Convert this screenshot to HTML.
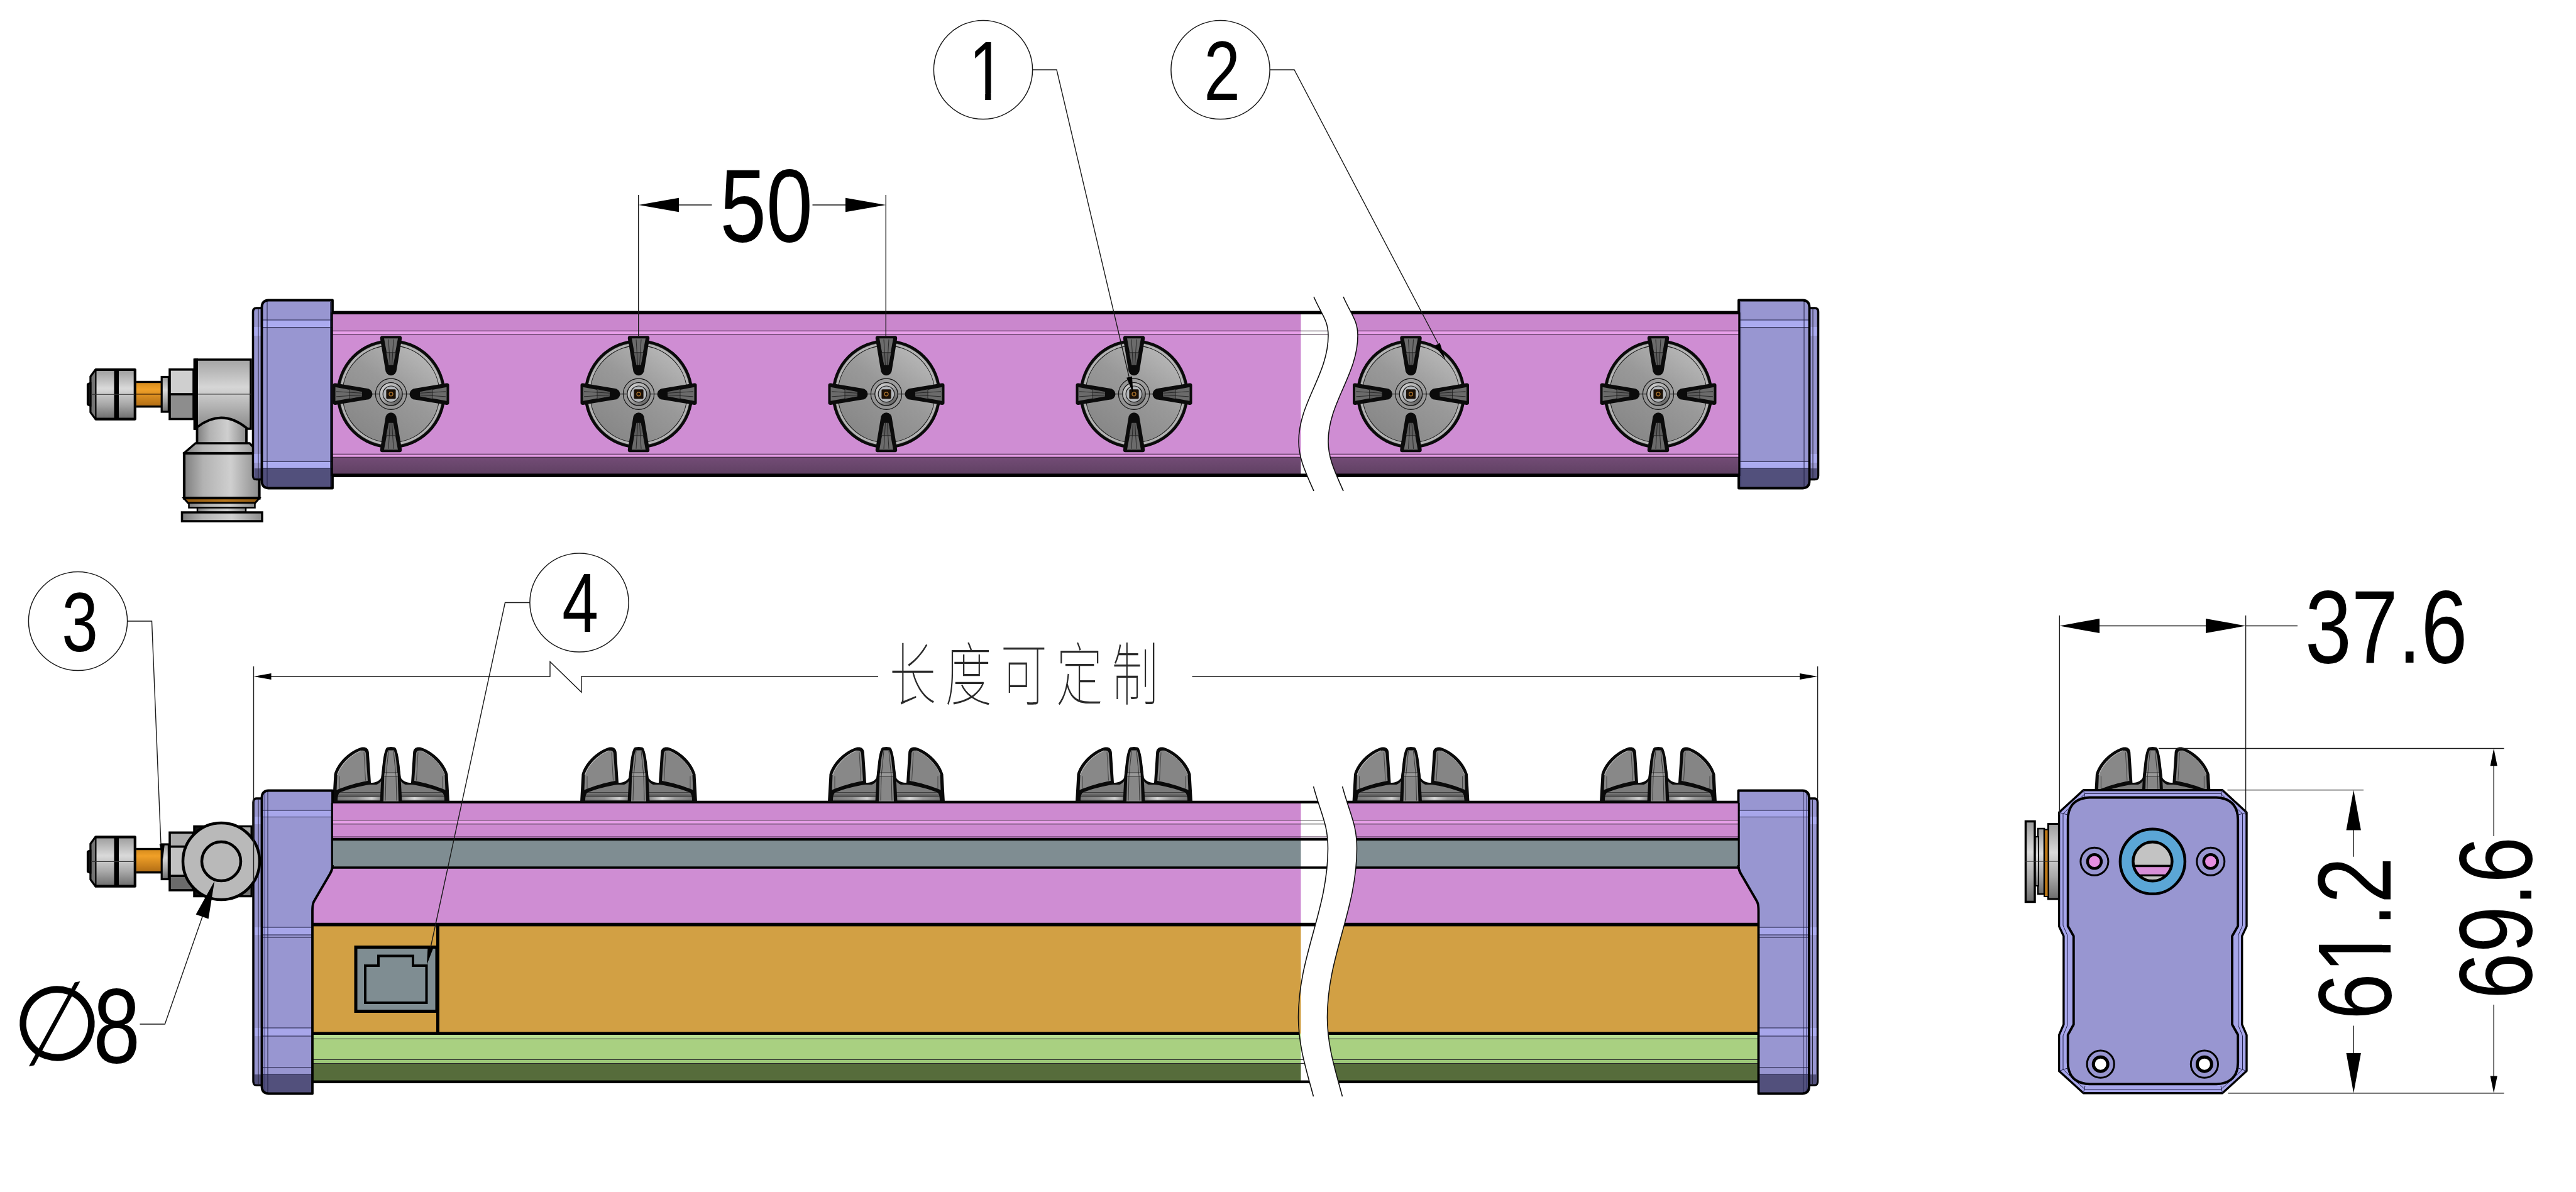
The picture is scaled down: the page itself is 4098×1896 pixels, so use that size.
<!DOCTYPE html>
<html lang="zh"><head><meta charset="utf-8"><title>drawing</title>
<style>html,body{margin:0;padding:0;background:#fff;overflow:hidden}svg{display:block}</style></head>
<body><svg width="4098" height="1896" viewBox="0 0 4098 1896">
<rect width="4098" height="1896" fill="#fff"/>
<defs>
<linearGradient id="gv" x1="0" y1="0" x2="0" y2="1">
 <stop offset="0" stop-color="#9c9c9c"/><stop offset=".38" stop-color="#dadada"/><stop offset=".7" stop-color="#a8a8a8"/><stop offset="1" stop-color="#6c6c6c"/>
</linearGradient>
<linearGradient id="gv2" x1="0" y1="0" x2="0" y2="1">
 <stop offset="0" stop-color="#a4a4a4"/><stop offset=".4" stop-color="#d6d6d6"/><stop offset="1" stop-color="#8a8a8a"/>
</linearGradient>
<linearGradient id="gh" x1="0" y1="0" x2="1" y2="0">
 <stop offset="0" stop-color="#7e7e7e"/><stop offset=".25" stop-color="#b2b2b2"/><stop offset=".62" stop-color="#cfcfcf"/><stop offset="1" stop-color="#8c8c8c"/>
</linearGradient>
<linearGradient id="go" x1="0" y1="0" x2="0" y2="1">
 <stop offset="0" stop-color="#d48a1c"/><stop offset=".3" stop-color="#f0a028"/><stop offset="1" stop-color="#b06c14"/>
</linearGradient>
<linearGradient id="goh" x1="0" y1="0" x2="1" y2="0">
 <stop offset="0" stop-color="#8e5810"/><stop offset=".55" stop-color="#b5761f"/><stop offset="1" stop-color="#8e5810"/>
</linearGradient>
<linearGradient id="nface" x1="0.85" y1="0.1" x2="0.25" y2="0.95">
 <stop offset="0" stop-color="#b9b9b9"/><stop offset=".45" stop-color="#999"/><stop offset="1" stop-color="#868686"/>
</linearGradient>
<linearGradient id="nhub" x1=".15" y1=".1" x2=".85" y2=".9">
 <stop offset="0" stop-color="#cfcfcf"/><stop offset=".5" stop-color="#a6a6a6"/><stop offset="1" stop-color="#5e5e5e"/>
</linearGradient>
<linearGradient id="ndisk" x1="0" y1="0" x2="0" y2="1">
 <stop offset="0" stop-color="#6e6e6e"/><stop offset=".35" stop-color="#8c8c8c"/><stop offset=".5" stop-color="#5c5c5c"/><stop offset=".75" stop-color="#b4b4b4"/><stop offset="1" stop-color="#6a6a6a"/>
</linearGradient>
<linearGradient id="gpd" x1="0" y1="0" x2="0" y2="1"><stop offset="0" stop-color="#734c76"/><stop offset="1" stop-color="#5f4062"/></linearGradient>
<linearGradient id="ndl" x1="0" y1="0" x2="1" y2="0"><stop offset="0" stop-color="#7a7a7a"/><stop offset=".45" stop-color="#8f8f8f"/><stop offset=".8" stop-color="#d2d2d2"/><stop offset="1" stop-color="#8a8a8a"/></linearGradient>
<linearGradient id="ndr" x1="0" y1="0" x2="1" y2="0"><stop offset="0" stop-color="#8a8a8a"/><stop offset=".3" stop-color="#dadada"/><stop offset=".6" stop-color="#9a9a9a"/><stop offset="1" stop-color="#7a7a7a"/></linearGradient>
<g id="fin">
 <path d="M-14.5,-92.5 L14.5,-92.5 Q18,-92 17,-87 L9,-39 A9,9.5 0 0 1 -9,-39 L-17,-87 Q-18,-92 -14.5,-92.5Z" fill="#0b0b0b"/>
 <path d="M-11,-88.5 L11,-88.5 L3.4,-47 L-3.4,-47Z" fill="#6b6b6b"/>
 <path d="M-7.5,-66 L7.5,-66 L3.6,-46 L-3.6,-46Z" fill="#5c5c5c"/>
 <path d="M-7.5,-66 L7.5,-66 M-4,-87 L-1.5,-46 M4,-87 L1.5,-46" stroke="#1a1a1a" stroke-width=".8" fill="none"/>
</g>
<g id="nozT">
 <circle r="84.3" fill="url(#nface)" stroke="#0a0a0a" stroke-width="4.6"/>
 <circle r="79.8" fill="none" stroke="#b4b4b4" stroke-width="3.6"/>
 <circle r="82" fill="none" stroke="#222" stroke-width=".8"/>
 <circle r="77.2" fill="none" stroke="#1a1a1a" stroke-width="1.1"/>
 <path d="M-34,0H34" stroke="#222" stroke-width="1"/>
 <circle r="24.6" fill="none" stroke="#141414" stroke-width="1.2"/>
 <circle r="18.2" fill="url(#nhub)" stroke="#141414" stroke-width="1.3"/>
 <circle r="12.8" fill="#b3b6ba" stroke="#1a1a1a" stroke-width="1.2"/>
 <rect x="-7.6" y="-7.6" width="15.2" height="15.2" rx="1.6" fill="#1b1108"/>
 <circle r="3" fill="none" stroke="#b0762c" stroke-width="1.3"/>
 <use href="#fin"/><use href="#fin" transform="rotate(90)"/><use href="#fin" transform="rotate(180)"/><use href="#fin" transform="rotate(270)"/>
</g>
<g id="nozS">
 <path d="M-93,1 L-90.5,-43 C-86,-59 -70,-78 -48,-85.5 C-41,-87 -36,-84.5 -35.2,-78 L-32,-29.5 C-26,-29.5 -20,-31 -15.8,-37 L-13,-62 C-11.5,-74 -9.5,-82 -7,-85 Q-5,-86.5 0,-86.5 Q5,-86.5 7,-85 C9.5,-82 11.5,-74 13,-62 L15.8,-37 C20,-31 26,-29.5 32,-29.5 L35.2,-78 C36,-84.5 41,-87 48,-85.5 C70,-78 86,-59 90.5,-43 L93,1Z" fill="#0a0a0a"/>
 <path d="M-85,-1 L-83,-14 L83,-14 L85,-1Z" fill="#747474"/>
 <path d="M-84,-10 H84 L84.5,-7 H-84.5Z" fill="#636363"/>
 <path d="M-84.5,-7 H-17 V-1.5 H-85Z" fill="url(#ndl)"/>
 <path d="M84.5,-7 H17 V-1.5 H85Z" fill="url(#ndr)"/>
 <path d="M-83.5,-10H83.5 M-84,-7H84 M-85,-1.6H85" stroke="#222" stroke-width=".8"/>
 <path d="M-80,-14.5 C-66,-20 -48,-24.5 -33,-26.5 L-23,-26.5 C-20,-27.5 -17,-30 -15,-33 L15,-33 C17,-30 20,-27.5 23,-26.5 L33,-26.5 C48,-24.5 66,-20 80,-14.5Z" fill="#7b7b7b"/>
 <path d="M-86.5,-18 L-85.5,-42 C-81,-56 -67,-73 -47.5,-80.5 C-43,-81.5 -40.3,-80 -40,-76 L-37,-32.5 C-54,-29.5 -72,-24 -86.5,-18Z" fill="#888"/>
 <path d="M86.5,-18 L85.5,-42 C81,-56 67,-73 47.5,-80.5 C43,-81.5 40.3,-80 40,-76 L37,-32.5 C54,-29.5 72,-24 86.5,-18Z" fill="#858585"/>
 <path d="M-85.5,-42 C-81,-56 -67,-73 -47.5,-80.5" stroke="#bdbdbd" stroke-width="1.2" fill="none"/>
 <path d="M85.5,-42 C81,-56 67,-73 47.5,-80.5" stroke="#aaa" stroke-width="1" fill="none"/>
 <path d="M-82,-19 V-40 M82,-19 V-40 M-43,-78 L-40.5,-33 M43,-78 L40.5,-33" stroke="#333" stroke-width=".8" fill="none"/>
 <path d="M-88,-8 C-86,-14 -82,-17 -76,-19 C-62,-24 -48,-28 -33,-30.5 M88,-8 C86,-14 82,-17 76,-19 C62,-24 48,-28 33,-30.5" stroke="#0a0a0a" stroke-width="4" fill="none"/>
 <path d="M-17.5,1 L-15.5,-37 L-12.5,-62 C-11,-74 -9,-81 -7,-84.5 Q0,-86.5 7,-84.5 C9,-81 11,-74 12.5,-62 L15.5,-37 L17.5,1Z" fill="#0a0a0a"/>
 <path d="M-12,0 L-10.8,-38 L-8.5,-62 C-7.5,-72 -6,-78 -4.5,-81 L4.5,-81 C6,-78 7.5,-72 8.5,-62 L10.8,-38 L12,0Z" fill="#878787"/>
 <path d="M-10.5,-40 H10.5 V-45.5 H-10.2Z" fill="#999"/>
 <path d="M-10.6,-39.5H10.6 M-10.2,-45.5H10.2 M-9,-1 L-8,-40 L-4,-80 M9,-1 L8,-40 L4,-80" stroke="#222" stroke-width=".8" fill="none"/>
</g>
</defs>
<g id="topview">
<path d="M152.4,588.0 H214.8 V666.5999999999999 H152.4 L144.4,655.5999999999999 V645.0999999999999 L140,643.0999999999999 V611.5 L144.4,609.5 V599.0Z" fill="url(#gv)" stroke="#000" stroke-width="4.2" stroke-linejoin="round"/>
<path d="M152.4,588.0 L144.4,599.0 V655.5999999999999 L152.4,666.5999999999999Z" fill="#737373" stroke="#000" stroke-width="2.2" stroke-linejoin="round"/>
<path d="M144.4,609.5 L140,611.5 V643.0999999999999 L144.4,645.0999999999999Z" fill="#111" stroke="#000" stroke-width="2" />
<rect x="181.5" y="588.0" width="7.5" height="78.6" fill="#000" />
<path d="M145,627.3L214,627.3" stroke="#333" stroke-width="1" fill="none"/>
<rect x="216.9" y="607.5" width="40" height="39.5" fill="url(#go)" />
<rect x="216.9" y="605.8" width="40" height="3.4" fill="#000" />
<rect x="216.9" y="645" width="40" height="3.4" fill="#000" />
<path d="M216.9,627L257,627" stroke="#5a3408" stroke-width="1.6" fill="none"/>
<rect x="257.2" y="599.5" width="11.2" height="55.5" fill="url(#gv)" stroke="#000" stroke-width="3.2"/>
<rect x="269" y="587.5" width="39" height="39.5" fill="#cfcfcf" />
<rect x="269" y="627" width="39" height="39.5" fill="#8d8d8d" />
<rect x="270" y="587.8" width="38" height="78.7" fill="none" stroke="#000" stroke-width="3.6"/>
<rect x="269" y="625.2" width="39" height="3.7" fill="#000" />
<rect x="311" y="572" width="88" height="110" fill="url(#gv2)" stroke="#000" stroke-width="3.5"/>
<rect x="307.6" y="570.3" width="7.4" height="113.5" fill="#000" />
<path d="M315,627L399,627" stroke="#333" stroke-width="1" fill="none"/>
<path d="M313.5,679.5 Q352.5,649 392,680.5 V706 H313.5Z" fill="url(#gh)" stroke="#000" stroke-width="3.8" />
<path d="M311,705 H397 L412.5,721 H292.5Z" fill="url(#gh)" stroke="#000" stroke-width="3.5" stroke-linejoin="round"/>
<rect x="293" y="721" width="119.5" height="71.5" fill="url(#gh)" stroke="#000" stroke-width="4.2"/>
<path d="M292.5,792.5 H412.5 L406,800 H299Z" fill="url(#goh)" stroke="#000" stroke-width="3" />
<rect x="292.5" y="790" width="120" height="4.2" fill="#000" />
<rect x="300.5" y="800" width="105" height="7.5" fill="url(#gh)" stroke="#000" stroke-width="2.5"/>
<rect x="314" y="807.5" width="77" height="7.5" fill="url(#gh)" stroke="#000" stroke-width="2.5"/>
<rect x="289.5" y="815" width="127.5" height="14" fill="url(#gh)" stroke="#000" stroke-width="3.5"/>
<rect x="520" y="497" width="1549.5" height="30" fill="#ca87cd" />
<rect x="520" y="526.5" width="1549.5" height="5" fill="#e9a0ea" />
<rect x="520" y="531.5" width="1549.5" height="191.5" fill="#cf8dd3" />
<rect x="520" y="722.5" width="1549.5" height="4.7" fill="#e9a0ea" />
<rect x="520" y="727.2" width="1549.5" height="28" fill="url(#gpd)" />
<clipPath id="ctR"><path d="M2137,472 C2149,499.8 2160,509.1 2160,533.8 C2160,595.6 2113,640.4 2113,702.2 C2113,730.0 2125,753.2 2137,781 L2800,781 L2800,472Z"/></clipPath>
<clipPath id="ctL"><path d="M2090,472 C2102,499.8 2113,509.1 2113,533.8 C2113,595.6 2066,640.4 2066,702.2 C2066,730.0 2078,753.2 2090,781 L500,781 L500,472Z"/></clipPath>
<g clip-path="url(#ctR)">
<rect x="2100" y="497" width="670" height="30" fill="#ca87cd" />
<rect x="2100" y="526.5" width="670" height="5" fill="#e9a0ea" />
<rect x="2100" y="531.5" width="670" height="191.5" fill="#cf8dd3" />
<rect x="2100" y="722.5" width="670" height="4.7" fill="#e9a0ea" />
<rect x="2100" y="727.2" width="670" height="28" fill="url(#gpd)" />
<rect x="2100" y="494.6" width="670" height="5.4" fill="#000" />
<rect x="2100" y="753.4" width="670" height="5.6" fill="#000" />
<path d="M2100,526.4L2770,526.4" stroke="#2a142a" stroke-width="1" fill="none"/>
<path d="M2100,531.6L2770,531.6" stroke="#2a142a" stroke-width="1" fill="none"/>
<path d="M2100,722.3L2770,722.3" stroke="#2a142a" stroke-width="1" fill="none"/>
<path d="M2100,727.2L2770,727.2" stroke="#2a142a" stroke-width="1" fill="none"/>
</g>
<g clip-path="url(#ctL)">
<rect x="520" y="494.6" width="1610" height="5.4" fill="#000" />
<rect x="520" y="753.4" width="1610" height="5.6" fill="#000" />
<path d="M520,526.4L2130,526.4" stroke="#2a142a" stroke-width="1" fill="none"/>
<path d="M520,531.6L2130,531.6" stroke="#2a142a" stroke-width="1" fill="none"/>
<path d="M520,722.3L2130,722.3" stroke="#2a142a" stroke-width="1" fill="none"/>
<path d="M520,727.2L2130,727.2" stroke="#2a142a" stroke-width="1" fill="none"/>
</g>
<path d="M2090,472 C2102,499.8 2113,509.1 2113,533.8 C2113,595.6 2066,640.4 2066,702.2 C2066,730.0 2078,753.2 2090,781" fill="none" stroke="#111" stroke-width="1.6" />
<path d="M2137,472 C2149,499.8 2160,509.1 2160,533.8 C2160,595.6 2113,640.4 2113,702.2 C2113,730.0 2125,753.2 2137,781" fill="none" stroke="#111" stroke-width="1.6" />
<use href="#nozT" x="622" y="626.8"/>
<use href="#nozT" x="1016" y="626.8"/>
<use href="#nozT" x="1410" y="626.8"/>
<use href="#nozT" x="1804" y="626.8"/>
<use href="#nozT" x="2244.5" y="626.8"/>
<use href="#nozT" x="2638" y="626.8"/>
<g>
<path d="M420,490 H408 Q402.5,490 402.5,496 V756.5 Q402.5,762.5 408,762.5 H420Z" fill="#9896d1" stroke="#000" stroke-width="3.5"/>
<rect x="404.5" y="520" width="13" height="14" fill="#ababf0" />
<rect x="404.5" y="722" width="13" height="14" fill="#ababf0" />
<rect x="404.5" y="745" width="13" height="16" fill="#52507c" />
<path d="M411,492L411,760" stroke="#223" stroke-width="1" fill="none"/>
<path d="M529,477.5 H427 Q416.5,478 416.5,489 V765 Q416.5,776 427,776.5 H529Z" fill="#9896d1"/>
<rect x="418" y="509" width="110" height="11.5" fill="#ababf0" />
<rect x="418" y="734.5" width="110" height="10.5" fill="#ababf0" />
<path d="M418,745 H528 V775 H427 Q418,775 418,766Z" fill="#52507c"/>
<path d="M418,509L528,509" stroke="#1c1c40" stroke-width="1" fill="none"/>
<path d="M418,520.5L528,520.5" stroke="#1c1c40" stroke-width="1" fill="none"/>
<path d="M418,734.5L528,734.5" stroke="#1c1c40" stroke-width="1" fill="none"/>
<path d="M418,745L528,745" stroke="#1c1c40" stroke-width="1" fill="none"/>
<path d="M425,480L425,775" stroke="#1c1c40" stroke-width="1" fill="none"/>
<path d="M525.5,480L525.5,775" stroke="#1c1c40" stroke-width="1" fill="none"/>
<path d="M529,497 V477.5 H427 Q416.5,478 416.5,489 V765 Q416.5,776 427,776.5 H529 V757" fill="none" stroke="#000" stroke-width="3.8" stroke-linejoin="round"/>
<path d="M528.2,497L528.2,757" stroke="#000" stroke-width="3" fill="none"/>
</g>
<g transform="translate(3295,0) scale(-1,1)">
<path d="M420,490 H408 Q402.5,490 402.5,496 V756.5 Q402.5,762.5 408,762.5 H420Z" fill="#9896d1" stroke="#000" stroke-width="3.5"/>
<rect x="404.5" y="520" width="13" height="14" fill="#ababf0" />
<rect x="404.5" y="722" width="13" height="14" fill="#ababf0" />
<rect x="404.5" y="745" width="13" height="16" fill="#52507c" />
<path d="M411,492L411,760" stroke="#223" stroke-width="1" fill="none"/>
<path d="M529,477.5 H427 Q416.5,478 416.5,489 V765 Q416.5,776 427,776.5 H529Z" fill="#9896d1"/>
<rect x="418" y="509" width="110" height="11.5" fill="#ababf0" />
<rect x="418" y="734.5" width="110" height="10.5" fill="#ababf0" />
<path d="M418,745 H528 V775 H427 Q418,775 418,766Z" fill="#52507c"/>
<path d="M418,509L528,509" stroke="#1c1c40" stroke-width="1" fill="none"/>
<path d="M418,520.5L528,520.5" stroke="#1c1c40" stroke-width="1" fill="none"/>
<path d="M418,734.5L528,734.5" stroke="#1c1c40" stroke-width="1" fill="none"/>
<path d="M418,745L528,745" stroke="#1c1c40" stroke-width="1" fill="none"/>
<path d="M425,480L425,775" stroke="#1c1c40" stroke-width="1" fill="none"/>
<path d="M525.5,480L525.5,775" stroke="#1c1c40" stroke-width="1" fill="none"/>
<path d="M529,497 V477.5 H427 Q416.5,478 416.5,489 V765 Q416.5,776 427,776.5 H529 V757" fill="none" stroke="#000" stroke-width="3.8" stroke-linejoin="round"/>
<path d="M528.2,497L528.2,757" stroke="#000" stroke-width="3" fill="none"/>
</g>
</g>
<g id="frontview">
<path d="M152.4,1331.3 H214.8 V1409.7 H152.4 L144.4,1398.7 V1388.2 L140,1386.2 V1354.8 L144.4,1352.8 V1342.3Z" fill="url(#gv)" stroke="#000" stroke-width="4.2" stroke-linejoin="round"/>
<path d="M152.4,1331.3 L144.4,1342.3 V1398.7 L152.4,1409.7Z" fill="#737373" stroke="#000" stroke-width="2.2" stroke-linejoin="round"/>
<path d="M144.4,1352.8 L140,1354.8 V1386.2 L144.4,1388.2Z" fill="#111" stroke="#000" stroke-width="2" />
<rect x="181.5" y="1331.3" width="7.5" height="78.4" fill="#000" />
<path d="M145,1370.5L214,1370.5" stroke="#333" stroke-width="1" fill="none"/>
<rect x="216.9" y="1350.5" width="40" height="37" fill="url(#go)" />
<rect x="216.9" y="1348.8" width="40" height="3.4" fill="#000" />
<rect x="216.9" y="1386" width="40" height="3.4" fill="#000" />
<rect x="257.2" y="1343" width="11.2" height="55.5" fill="url(#gv)" stroke="#000" stroke-width="3.2"/>
<rect x="269" y="1323.5" width="38" height="23" fill="#ababab" />
<rect x="269" y="1346" width="38" height="47" fill="#c2c2c2" />
<rect x="269" y="1393" width="38" height="24" fill="#6b6b6b" />
<rect x="270" y="1324.3" width="37" height="91.7" fill="none" stroke="#000" stroke-width="3.6"/>
<rect x="269" y="1344.8" width="38" height="3.6" fill="#000" />
<rect x="269" y="1391.4" width="38" height="3.6" fill="#000" />
<rect x="309" y="1314.5" width="91" height="111" fill="#111" stroke="#000" stroke-width="3.5"/>
<rect x="360" y="1316" width="38.5" height="75" fill="#a8a8a8" />
<rect x="360" y="1391" width="38.5" height="33" fill="#757575" />
<rect x="490" y="1276" width="1579.5" height="59" fill="#cd8ad0" />
<rect x="490" y="1305" width="1579.5" height="5.5" fill="#e9a0ea" />
<rect x="490" y="1335" width="1579.5" height="45" fill="#7f8d92" />
<rect x="490" y="1380" width="1579.5" height="90" fill="#cf8dd3" />
<rect x="490" y="1470" width="1579.5" height="174" fill="#d2a044" />
<rect x="490" y="1644" width="1579.5" height="9" fill="#b8df92" />
<rect x="490" y="1652.5" width="1579.5" height="33" fill="#a9d081" />
<rect x="490" y="1685.5" width="1579.5" height="6" fill="#9cc678" />
<rect x="490" y="1691.5" width="1579.5" height="29" fill="#566c3b" />
<clipPath id="cfR"><path d="M2135.5,1251 C2147.5,1295.4 2158.5,1310.2 2158.5,1349.6 C2158.5,1448.2 2111.5,1519.7 2111.5,1618.3 C2111.5,1662.7 2123.5,1699.6 2135.5,1744 L2850,1744 L2850,1251Z"/></clipPath>
<clipPath id="cfL"><path d="M2089.5,1251 C2101.5,1295.4 2112.5,1310.2 2112.5,1349.6 C2112.5,1448.2 2065.5,1519.7 2065.5,1618.3 C2065.5,1662.7 2077.5,1699.6 2089.5,1744 L480,1744 L480,1251Z"/></clipPath>
<g clip-path="url(#cfR)">
<rect x="2100" y="1276" width="710" height="59" fill="#cd8ad0" />
<rect x="2100" y="1305" width="710" height="5.5" fill="#e9a0ea" />
<rect x="2100" y="1335" width="710" height="45" fill="#7f8d92" />
<rect x="2100" y="1380" width="710" height="90" fill="#cf8dd3" />
<rect x="2100" y="1470" width="710" height="174" fill="#d2a044" />
<rect x="2100" y="1644" width="710" height="9" fill="#b8df92" />
<rect x="2100" y="1652.5" width="710" height="33" fill="#a9d081" />
<rect x="2100" y="1685.5" width="710" height="6" fill="#9cc678" />
<rect x="2100" y="1691.5" width="710" height="29" fill="#566c3b" />
<rect x="2100" y="1273.7" width="710" height="4.2" fill="#000" />
<rect x="2100" y="1333" width="710" height="4" fill="#000" />
<rect x="2100" y="1378.2" width="710" height="3.6" fill="#000" />
<rect x="2100" y="1467.8" width="710" height="5.6" fill="#000" />
<rect x="2100" y="1641.4" width="710" height="4.6" fill="#000" />
<rect x="2100" y="1718.5" width="710" height="4.5" fill="#000" />
<path d="M2100,1304.5L2810,1304.5" stroke="#2a2a2a" stroke-width="1.1" fill="none"/>
<path d="M2100,1310.7L2810,1310.7" stroke="#2a2a2a" stroke-width="1.1" fill="none"/>
<path d="M2100,1652.5L2810,1652.5" stroke="#2a2a2a" stroke-width="1.1" fill="none"/>
<path d="M2100,1685.5L2810,1685.5" stroke="#2a2a2a" stroke-width="1.1" fill="none"/>
<path d="M2100,1691.5L2810,1691.5" stroke="#2a2a2a" stroke-width="1.1" fill="none"/>
<path d="M2100,1331.2L2810,1331.2" stroke="#4a2a4c" stroke-width="1.4" fill="none"/>
</g>
<g clip-path="url(#cfL)">
<rect x="490" y="1273.7" width="1640" height="4.2" fill="#000" />
<rect x="490" y="1333" width="1640" height="4" fill="#000" />
<rect x="490" y="1378.2" width="1640" height="3.6" fill="#000" />
<rect x="490" y="1467.8" width="1640" height="5.6" fill="#000" />
<rect x="490" y="1641.4" width="1640" height="4.6" fill="#000" />
<rect x="490" y="1718.5" width="1640" height="4.5" fill="#000" />
<path d="M490,1304.5L2130,1304.5" stroke="#2a2a2a" stroke-width="1.1" fill="none"/>
<path d="M490,1310.7L2130,1310.7" stroke="#2a2a2a" stroke-width="1.1" fill="none"/>
<path d="M490,1652.5L2130,1652.5" stroke="#2a2a2a" stroke-width="1.1" fill="none"/>
<path d="M490,1685.5L2130,1685.5" stroke="#2a2a2a" stroke-width="1.1" fill="none"/>
<path d="M490,1691.5L2130,1691.5" stroke="#2a2a2a" stroke-width="1.1" fill="none"/>
<path d="M490,1331.2L2130,1331.2" stroke="#4a2a4c" stroke-width="1.4" fill="none"/>
</g>
<path d="M2089.5,1251 C2101.5,1295.4 2112.5,1310.2 2112.5,1349.6 C2112.5,1448.2 2065.5,1519.7 2065.5,1618.3 C2065.5,1662.7 2077.5,1699.6 2089.5,1744" fill="none" stroke="#111" stroke-width="1.6" />
<path d="M2135.5,1251 C2147.5,1295.4 2158.5,1310.2 2158.5,1349.6 C2158.5,1448.2 2111.5,1519.7 2111.5,1618.3 C2111.5,1662.7 2123.5,1699.6 2135.5,1744" fill="none" stroke="#111" stroke-width="1.6" />
<rect x="694" y="1473" width="5" height="170" fill="#000" />
<rect x="566" y="1506.5" width="129" height="102" fill="#7f8d92" stroke="#000" stroke-width="5"/>
<path d="M581,1595 V1536 H602 V1520.5 H657 V1536 H678.5 V1595Z" fill="#7f8d92" stroke="#000" stroke-width="4" stroke-linejoin="miter"/>
<use href="#nozS" x="622" y="1274.5"/>
<use href="#nozS" x="1016" y="1274.5"/>
<use href="#nozS" x="1410" y="1274.5"/>
<use href="#nozS" x="1804" y="1274.5"/>
<use href="#nozS" x="2244.5" y="1274.5"/>
<use href="#nozS" x="2638" y="1274.5"/>
<g>
<path d="M420,1270 H408 Q403,1270 403,1276 V1720 Q403,1726 408,1726 H420Z" fill="#9896d1" stroke="#000" stroke-width="3.5"/>
<rect x="405" y="1299" width="13" height="12" fill="#ababf0" />
<rect x="405" y="1475" width="13" height="12" fill="#ababf0" />
<rect x="405" y="1635" width="13" height="13" fill="#ababf0" />
<rect x="405" y="1709" width="13" height="15.5" fill="#52507c" />
<path d="M411,1272L411,1724" stroke="#223" stroke-width="1" fill="none"/>
<clipPath id="ccf0"><path d="M529,1257.5 H427 Q416.5,1258 416.5,1269 V1728 Q416.5,1739 427,1739.5 H497 V1449 C497,1438 498.5,1435 501,1431 L525.5,1389 C527.5,1385.5 529,1382 529,1376Z"/></clipPath>
<g clip-path="url(#ccf0)">
<rect x="410" y="1250" width="125" height="495" fill="#9896d1" />
<rect x="410" y="1289" width="125" height="10.5" fill="#a7a6ea" />
<rect x="410" y="1475" width="125" height="12" fill="#a7a6ea" />
<rect x="410" y="1635" width="125" height="13" fill="#a7a6ea" />
<rect x="410" y="1709" width="125" height="32" fill="#52507c" />
<path d="M410,1289L535,1289" stroke="#1c1c40" stroke-width="1" fill="none"/>
<path d="M410,1299.5L535,1299.5" stroke="#1c1c40" stroke-width="1" fill="none"/>
<path d="M410,1475L535,1475" stroke="#1c1c40" stroke-width="1" fill="none"/>
<path d="M410,1487L535,1487" stroke="#1c1c40" stroke-width="1" fill="none"/>
<path d="M410,1491L535,1491" stroke="#1c1c40" stroke-width="1" fill="none"/>
<path d="M410,1635L535,1635" stroke="#1c1c40" stroke-width="1" fill="none"/>
<path d="M410,1648L535,1648" stroke="#1c1c40" stroke-width="1" fill="none"/>
<path d="M410,1697.5L535,1697.5" stroke="#1c1c40" stroke-width="1" fill="none"/>
<path d="M410,1709L535,1709" stroke="#1c1c40" stroke-width="1" fill="none"/>
<path d="M426,1250L426,1745" stroke="#1c1c40" stroke-width="1" fill="none"/>
<path d="M421,1250L421,1745" stroke="#34346a" stroke-width="0.8" fill="none"/>
</g>
<path d="M529,1277 V1257.5 H427 Q416.5,1258 416.5,1269 V1728 Q416.5,1739 427,1739.5 H497 V1449 C497,1438 498.5,1435 501,1431 L525.5,1389 C527.5,1385.5 529,1382 529,1376" fill="none" stroke="#000" stroke-width="3.8" stroke-linejoin="round"/>
<path d="M528.3,1277L528.3,1377" stroke="#000" stroke-width="3.1" fill="none"/>
</g>
<g transform="translate(3294.5,0) scale(-1,1)">
<path d="M420,1270 H408 Q403,1270 403,1276 V1720 Q403,1726 408,1726 H420Z" fill="#9896d1" stroke="#000" stroke-width="3.5"/>
<rect x="405" y="1299" width="13" height="12" fill="#ababf0" />
<rect x="405" y="1475" width="13" height="12" fill="#ababf0" />
<rect x="405" y="1635" width="13" height="13" fill="#ababf0" />
<rect x="405" y="1709" width="13" height="15.5" fill="#52507c" />
<path d="M411,1272L411,1724" stroke="#223" stroke-width="1" fill="none"/>
<clipPath id="ccf1"><path d="M529,1257.5 H427 Q416.5,1258 416.5,1269 V1728 Q416.5,1739 427,1739.5 H497 V1449 C497,1438 498.5,1435 501,1431 L525.5,1389 C527.5,1385.5 529,1382 529,1376Z"/></clipPath>
<g clip-path="url(#ccf1)">
<rect x="410" y="1250" width="125" height="495" fill="#9896d1" />
<rect x="410" y="1289" width="125" height="10.5" fill="#a7a6ea" />
<rect x="410" y="1475" width="125" height="12" fill="#a7a6ea" />
<rect x="410" y="1635" width="125" height="13" fill="#a7a6ea" />
<rect x="410" y="1709" width="125" height="32" fill="#52507c" />
<path d="M410,1289L535,1289" stroke="#1c1c40" stroke-width="1" fill="none"/>
<path d="M410,1299.5L535,1299.5" stroke="#1c1c40" stroke-width="1" fill="none"/>
<path d="M410,1475L535,1475" stroke="#1c1c40" stroke-width="1" fill="none"/>
<path d="M410,1487L535,1487" stroke="#1c1c40" stroke-width="1" fill="none"/>
<path d="M410,1491L535,1491" stroke="#1c1c40" stroke-width="1" fill="none"/>
<path d="M410,1635L535,1635" stroke="#1c1c40" stroke-width="1" fill="none"/>
<path d="M410,1648L535,1648" stroke="#1c1c40" stroke-width="1" fill="none"/>
<path d="M410,1697.5L535,1697.5" stroke="#1c1c40" stroke-width="1" fill="none"/>
<path d="M410,1709L535,1709" stroke="#1c1c40" stroke-width="1" fill="none"/>
<path d="M426,1250L426,1745" stroke="#1c1c40" stroke-width="1" fill="none"/>
<path d="M421,1250L421,1745" stroke="#34346a" stroke-width="0.8" fill="none"/>
</g>
<path d="M529,1277 V1257.5 H427 Q416.5,1258 416.5,1269 V1728 Q416.5,1739 427,1739.5 H497 V1449 C497,1438 498.5,1435 501,1431 L525.5,1389 C527.5,1385.5 529,1382 529,1376" fill="none" stroke="#000" stroke-width="3.8" stroke-linejoin="round"/>
<path d="M528.3,1277L528.3,1377" stroke="#000" stroke-width="3.1" fill="none"/>
</g>
<circle cx="352" cy="1370" r="61" fill="#b9b9b9" stroke="#000" stroke-width="4.5"/>
<circle cx="352" cy="1370" r="31" fill="#b9b9b9" stroke="#000" stroke-width="4.5"/>
</g>
<g id="endview">
<use href="#nozS" x="3424.4" y="1274.5"/>
<rect x="3258.5" y="1310.5" width="18" height="119.5" fill="url(#gv)" stroke="#000" stroke-width="3"/>
<rect x="3252" y="1319.5" width="6.5" height="106.5" fill="#c07a18" stroke="#000" stroke-width="2"/>
<rect x="3242" y="1318" width="10" height="104" fill="url(#gv)" stroke="#000" stroke-width="2.5"/>
<rect x="3236" y="1331" width="7" height="78" fill="url(#gv)" stroke="#000" stroke-width="2"/>
<rect x="3222.5" y="1306.5" width="14.5" height="128" fill="url(#gv)" stroke="#000" stroke-width="3.5"/>
<path d="M3222,1370.3L3276,1370.3" stroke="#333" stroke-width="0.8" fill="none"/>
<path d="M3314.4,1256.8 H3535.5 L3574,1292.2 V1473.4 L3566.7,1489 V1629.5 L3574,1646.4 V1703.6 L3535.5,1738.7 H3314.4 L3275.6,1703.6 V1646.4 L3282.9,1629.5 V1489 L3275.6,1473.4 V1292.2Z" fill="#a7a6ea" stroke="#000" stroke-width="3.4" stroke-linejoin="round"/>
<path d="M3317,1262.5 H3533 L3567.5,1294.5 V1472 L3560.5,1488 V1630.5 L3567.5,1647.5 V1701 L3533,1733 H3317 L3282,1701 V1647.5 L3289,1630.5 V1488 L3282,1472 V1294.5Z" fill="none" stroke="#20204a" stroke-width="1" />
<path d="M3324,1268.5 H3526 Q3560,1270 3560.2,1304 V1473 L3551,1489 V1629.5 L3560.2,1646 V1690 Q3560,1723 3526,1724.4 H3324 Q3290,1723 3289.7,1690 V1646 L3298.8,1629.5 V1489 L3289.7,1473 V1304 Q3290,1270 3324,1268.5Z" fill="#9896d1" stroke="#000" stroke-width="3.8" stroke-linejoin="round"/>
<path d="M3314.4,1256.8L3317,1268" stroke="#20204a" stroke-width="1" fill="none"/>
<path d="M3535.5,1256.8L3533,1268" stroke="#20204a" stroke-width="1" fill="none"/>
<path d="M3275.6,1292.2L3289,1296" stroke="#20204a" stroke-width="1" fill="none"/>
<path d="M3574,1292.2L3561,1296" stroke="#20204a" stroke-width="1" fill="none"/>
<path d="M3314.4,1738.7L3317,1727" stroke="#20204a" stroke-width="1" fill="none"/>
<path d="M3535.5,1738.7L3533,1727" stroke="#20204a" stroke-width="1" fill="none"/>
<path d="M3275.6,1703.6L3289,1699" stroke="#20204a" stroke-width="1" fill="none"/>
<path d="M3574,1703.6L3561,1699" stroke="#20204a" stroke-width="1" fill="none"/>
<circle cx="3424.4" cy="1370.3" r="51.5" fill="#5ba6d6" stroke="#000" stroke-width="4.5"/>
<clipPath id="cring"><circle cx="3424.4" cy="1370.3" r="31"/></clipPath>
<g clip-path="url(#cring)">
<rect x="3390" y="1335" width="70" height="43" fill="#c3c3c3" />
<rect x="3390" y="1377.3" width="70" height="15.5" fill="#d98fd9" />
<rect x="3390" y="1392" width="70" height="12" fill="#c3c3c3" />
<rect x="3390" y="1375.6" width="70" height="3.6" fill="#000" />
<rect x="3390" y="1390.8" width="70" height="3.2" fill="#000" />
</g>
<circle cx="3424.4" cy="1370.3" r="31" fill="none" stroke="#000" stroke-width="4.5"/>
<circle cx="3331.9" cy="1370.3" r="22" fill="#9896d1" stroke="#000" stroke-width="3"/>
<circle cx="3331.9" cy="1370.3" r="11" fill="#e58fe0" stroke="#000" stroke-width="4.5"/>
<circle cx="3516.8" cy="1370.3" r="22" fill="#9896d1" stroke="#000" stroke-width="3"/>
<circle cx="3516.8" cy="1370.3" r="11" fill="#e58fe0" stroke="#000" stroke-width="4.5"/>
<circle cx="3341.7" cy="1692.7" r="21.6" fill="#9896d1" stroke="#000" stroke-width="3"/>
<circle cx="3341.7" cy="1692.7" r="11.5" fill="#fff" stroke="#000" stroke-width="5"/>
<circle cx="3506.9" cy="1692.7" r="21.6" fill="#9896d1" stroke="#000" stroke-width="3"/>
<circle cx="3506.9" cy="1692.7" r="11.5" fill="#fff" stroke="#000" stroke-width="5"/>
</g>
<g id="anno" font-family="'Liberation Sans', sans-serif" fill="#000">
<clipPath id="cl1"><path clip-rule="evenodd" d="M-100,-150H100V30H-100Z M-28,-10.7H-3.6V3H-28Z M8.25,-10.7H32V3H8.25Z"/></clipPath>
<clipPath id="cl2"><path clip-rule="evenodd" d="M-220,-200H220V40H-220Z M-58,-13.3H-27.5V3H-58Z M-12.75,-13.3H16.5V3H-12.75Z"/></clipPath>
<circle cx="1564" cy="111" r="78.6" fill="none" stroke="#1a1a1a" stroke-width="1.5"/>
<circle cx="1941.5" cy="111" r="78.6" fill="none" stroke="#1a1a1a" stroke-width="1.5"/>
<circle cx="124" cy="988" r="78.6" fill="none" stroke="#1a1a1a" stroke-width="1.5"/>
<circle cx="921.5" cy="958.5" r="78.6" fill="none" stroke="#1a1a1a" stroke-width="1.5"/>
<text transform="translate(1570,159) scale(0.78,1)" font-size="133" text-anchor="middle" clip-path="url(#cl1)">1</text>
<text transform="translate(1944,159) scale(0.78,1)" font-size="133" text-anchor="middle">2</text>
<text transform="translate(127,1036) scale(0.78,1)" font-size="133" text-anchor="middle">3</text>
<text transform="translate(923,1005) scale(0.78,1)" font-size="133" text-anchor="middle">4</text>
<path d="M1642.6,111 H1681 L1796,599" fill="none" stroke="#1a1a1a" stroke-width="1.4" />
<path d="M1802.7,626.0 L1792.1,600.8 L1800.9,598.7Z" fill="#000"/>
<path d="M2020,111 H2059 L2288,547" fill="none" stroke="#1a1a1a" stroke-width="1.4" />
<path d="M2299.5,572.5 L2282.6,549.7 L2290.6,545.6Z" fill="#000"/>
<path d="M202.6,988 H241.5 L256,1343" fill="none" stroke="#1a1a1a" stroke-width="1.4" />
<path d="M259.0,1367.5 L253.7,1342.7 L262.0,1342.3Z" fill="#000"/>
<path d="M843,958.5 H803.5 L685,1507" fill="none" stroke="#1a1a1a" stroke-width="1.4" />
<path d="M679.0,1534.5 L680.5,1506.2 L689.3,1508.1Z" fill="#000"/>
<path d="M1015.7,310 V536 M1409.3,310 V536" fill="none" stroke="#1a1a1a" stroke-width="1.4" />
<path d="M1078,326 H1132.5 M1292.5,326 H1348" fill="none" stroke="#1a1a1a" stroke-width="1.4" />
<path d="M1015.7,326.0 L1080.0,314.7 L1080.0,337.3Z" fill="#000"/>
<path d="M1409.3,326.0 L1345.0,337.3 L1345.0,314.7Z" fill="#000"/>
<text transform="translate(1219,383.5) scale(0.8,1)" font-size="166" text-anchor="middle">50</text>
<path d="M403.5,1060 V1402 M2891.6,1060 V1270" fill="none" stroke="#1a1a1a" stroke-width="1.4" />
<path d="M430,1076 H875 V1052.5 L925,1101 V1076 H1397 M1896.5,1076 H2864" fill="none" stroke="#1a1a1a" stroke-width="1.4" />
<path d="M403.5,1076.0 L431.5,1071.0 L431.5,1081.0Z" fill="#000"/>
<path d="M2891.6,1076.0 L2863.0,1081.0 L2863.0,1071.0Z" fill="#000"/>
<text transform="translate(1636,1113) scale(.74,1.09)" font-family="'Liberation Sans','Noto Sans CJK SC',sans-serif" font-weight="100" font-size="100" text-anchor="middle" fill="#2a2a2a" letter-spacing="19.5">长度可定制</text>
<path d="M222.5,1629 H262.3 L322,1458" fill="none" stroke="#1a1a1a" stroke-width="1.4" />
<path d="M341.3,1401.3 L331.6,1461.5 L311.6,1454.5Z" fill="#000"/>
<text x="91" y="1686.1" transform="rotate(-10.3 91 1628)" font-family="'DejaVu Sans',sans-serif" font-size="166" text-anchor="middle">∅</text>
<text transform="translate(185.5,1690) scale(0.8,1)" font-size="168" text-anchor="middle">8</text>
<path d="M3276.4,979 V1296 M3572.6,979 V1296" fill="none" stroke="#1a1a1a" stroke-width="1.4" />
<path d="M3338,995.5 H3511 M3572.6,995.5 H3655" fill="none" stroke="#1a1a1a" stroke-width="1.4" />
<path d="M3276.4,995.5 L3340.0,984.0 L3340.0,1007.0Z" fill="#000"/>
<path d="M3572.6,995.5 L3509.0,1007.0 L3509.0,984.0Z" fill="#000"/>
<text transform="translate(3667,1053.5) scale(0.8,1)" font-size="166" text-anchor="start">37.6</text>
<path d="M3434,1190.5 H3983.5 M3543.5,1256.6 H3760 M3544.5,1738.8 H3983.5" fill="none" stroke="#1a1a1a" stroke-width="1.4" />
<path d="M3744.2,1318 V1362.7 M3744.2,1631.5 V1677" fill="none" stroke="#1a1a1a" stroke-width="1.4" />
<path d="M3744.2,1256.6 L3755.9,1320.5 L3732.5,1320.5Z" fill="#000"/>
<path d="M3744.2,1738.8 L3732.5,1675.0 L3755.9,1675.0Z" fill="#000"/>
<path d="M3967.2,1216 V1330 M3967.2,1598 V1713" fill="none" stroke="#1a1a1a" stroke-width="1.4" />
<path d="M3967.2,1190.5 L3972.8,1218.3 L3961.6,1218.3Z" fill="#000"/>
<path d="M3967.2,1738.8 L3961.6,1711.5 L3972.8,1711.5Z" fill="#000"/>
<text transform="translate(3803,1492.7) rotate(-90) scale(0.8,1)" font-size="166" text-anchor="middle" clip-path="url(#cl2)">61.2</text>
<text transform="translate(4026.5,1460) rotate(-90) scale(0.8,1)" font-size="166" text-anchor="middle">69.6</text>
</g>
</svg></body></html>
